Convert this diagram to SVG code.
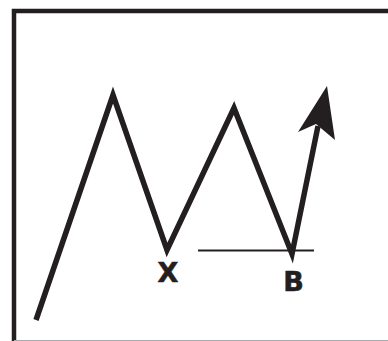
<svg xmlns="http://www.w3.org/2000/svg" width="388" height="341" viewBox="0 0 388 341">
<style>
.zz{fill:none;stroke:#231f20;stroke-width:5.5;stroke-linejoin:miter;stroke-miterlimit:10}
.lbl{font-family:"DejaVu Sans","Liberation Sans",sans-serif;font-weight:bold;font-size:27px;fill:#231f20;stroke:#231f20;stroke-width:0.6;text-anchor:middle}
</style>
<rect width="388" height="341" fill="#fff"/>
<g id="frame">
<path d="M14,341 V11 H388" fill="none" stroke="#231f20" stroke-width="4.5"/>
<line x1="14" y1="340.5" x2="388" y2="340.5" stroke="#a7a9ac" stroke-width="1"/>
</g>
<g id="connectors">
<polyline class="zz" points="36,320 113,95 167,250 234,108 292,254 318,126"/>
<line x1="198" y1="250.5" x2="314" y2="250.5" stroke="#231f20" stroke-width="2.2"/>
<polygon points="327,86 298,132 316,124 335,140" fill="#231f20"/>
</g>
<g id="X"><text class="lbl" x="168" y="282">X</text></g>
<g id="B"><text class="lbl" x="293.5" y="291">B</text></g>
</svg>
